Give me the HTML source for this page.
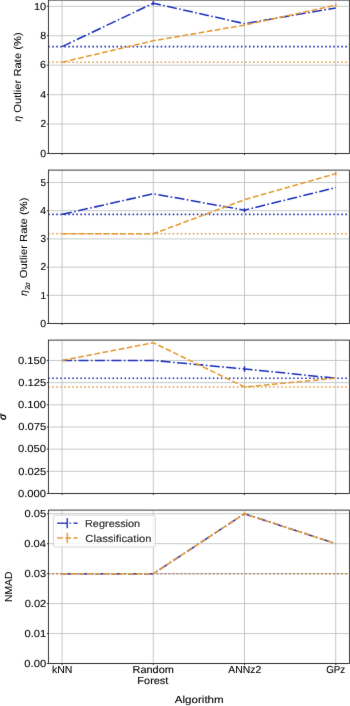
<!DOCTYPE html>
<html><head><meta charset="utf-8"><style>
html,body{margin:0;padding:0;background:#fff;}
svg{display:block;will-change:transform;}
text{font-family:"Liberation Sans", sans-serif;fill:#000000;stroke:#000000;stroke-width:0.1px;text-rendering:geometricPrecision;}
.rot text{stroke-width:0.05px;}
</style></head><body>
<svg width="350" height="706" viewBox="0 0 350 706">
<defs><filter id="bl" filterUnits="userSpaceOnUse" x="0" y="0" width="350" height="706"><feConvolveMatrix order="3" kernelMatrix="0.01 0.04 0.01 0.04 0.8 0.04 0.01 0.04 0.01" edgeMode="none" preserveAlpha="false"/></filter></defs>
<rect width="350" height="706" fill="#fff"/>
<g filter="url(#bl)">
<clipPath id="c0"><rect x="48.4" y="0.1" width="301.0" height="153.4"/></clipPath>
<path d="M62.08 0.1V153.5M153.29 0.1V153.5M244.51 0.1V153.5M335.72 0.1V153.5M48.4 153.50H349.4M48.4 124.06H349.4M48.4 94.62H349.4M48.4 65.18H349.4M48.4 35.74H349.4M48.4 6.30H349.4" stroke="#b9c0be" stroke-width="0.85" fill="none"/>
<g clip-path="url(#c0)">
<path d="M48.4 46.63H349.4" stroke="#1b30bc" stroke-width="1.55" stroke-dasharray="1.53 2.485" stroke-dashoffset="0.17" fill="none"/>
<path d="M48.4 62.24H349.4" stroke="#e49a32" stroke-width="1.55" stroke-dasharray="1.53 2.485" stroke-dashoffset="0.17" fill="none"/>
<polyline points="62.08,46.63 153.29,3.21 244.51,23.67 335.72,7.92" stroke="#1b30bc" stroke-width="1.55" stroke-dasharray="9.94 2.48 1.55 2.48" fill="none"/>
<polyline points="62.08,62.24 153.29,40.74 244.51,25.14 335.72,5.27" stroke="#e49a32" stroke-width="1.55" stroke-dasharray="5.74 2.48" fill="none"/>
<path d="M153.29 1.21V5.21" stroke="#1b30bc" stroke-width="1.55" fill="none"/>
<path d="M335.72 3.77V6.77" stroke="#e49a32" stroke-width="1.55" fill="none"/>
</g>
<rect x="48.4" y="0.1" width="301.0" height="153.4" stroke="#1a1a1a" stroke-width="0.85" fill="none"/>
<path d="M46.9 153.50H48.4M46.9 124.06H48.4M46.9 94.62H48.4M46.9 65.18H48.4M46.9 35.74H48.4M46.9 6.30H48.4M62.08 153.5V155.0M153.29 153.5V155.0M244.51 153.5V155.0M335.72 153.5V155.0" stroke="#1a1a1a" stroke-width="0.85" fill="none"/>
<text x="40.25" y="156.80" font-size="10.20" textLength="5.86" lengthAdjust="spacingAndGlyphs">0</text>
<text x="40.56" y="127.36" font-size="10.20" textLength="5.65" lengthAdjust="spacingAndGlyphs">2</text>
<text x="40.15" y="97.92" font-size="10.20" textLength="5.86" lengthAdjust="spacingAndGlyphs">4</text>
<text x="40.11" y="68.48" font-size="10.20" textLength="6.07" lengthAdjust="spacingAndGlyphs">6</text>
<text x="40.24" y="39.04" font-size="10.20" textLength="5.93" lengthAdjust="spacingAndGlyphs">8</text>
<text x="33.90" y="9.60" font-size="10.20" textLength="12.23" lengthAdjust="spacingAndGlyphs">10</text>
<clipPath id="c1"><rect x="48.4" y="170.1" width="301.0" height="153.4"/></clipPath>
<path d="M62.08 170.1V323.5M153.29 170.1V323.5M244.51 170.1V323.5M335.72 170.1V323.5M48.4 323.50H349.4M48.4 295.30H349.4M48.4 267.10H349.4M48.4 238.90H349.4M48.4 210.70H349.4M48.4 182.50H349.4" stroke="#b9c0be" stroke-width="0.85" fill="none"/>
<g clip-path="url(#c1)">
<path d="M48.4 214.37H349.4" stroke="#1b30bc" stroke-width="1.55" stroke-dasharray="1.53 2.485" stroke-dashoffset="0.17" fill="none"/>
<path d="M48.4 233.82H349.4" stroke="#e49a32" stroke-width="1.55" stroke-dasharray="1.53 2.485" stroke-dashoffset="0.17" fill="none"/>
<polyline points="62.08,214.37 153.29,193.78 244.51,210.14 335.72,187.58" stroke="#1b30bc" stroke-width="1.55" stroke-dasharray="9.94 2.48 1.55 2.48" fill="none"/>
<polyline points="62.08,233.82 153.29,233.82 244.51,199.70 335.72,173.76" stroke="#e49a32" stroke-width="1.55" stroke-dasharray="5.74 2.48" fill="none"/>
<path d="M244.51 208.14V212.14" stroke="#1b30bc" stroke-width="1.55" fill="none"/>
<path d="M335.72 172.06V175.46" stroke="#e49a32" stroke-width="1.55" fill="none"/>
</g>
<rect x="48.4" y="170.1" width="301.0" height="153.4" stroke="#1a1a1a" stroke-width="0.85" fill="none"/>
<path d="M46.9 323.50H48.4M46.9 295.30H48.4M46.9 267.10H48.4M46.9 238.90H48.4M46.9 210.70H48.4M46.9 182.50H48.4M62.08 323.5V325.0M153.29 323.5V325.0M244.51 323.5V325.0M335.72 323.5V325.0" stroke="#1a1a1a" stroke-width="0.85" fill="none"/>
<text x="40.25" y="326.80" font-size="10.20" textLength="5.86" lengthAdjust="spacingAndGlyphs">0</text>
<text x="40.59" y="298.60" font-size="10.20" textLength="5.60" lengthAdjust="spacingAndGlyphs">1</text>
<text x="40.56" y="270.40" font-size="10.20" textLength="5.65" lengthAdjust="spacingAndGlyphs">2</text>
<text x="40.51" y="242.20" font-size="10.20" textLength="5.63" lengthAdjust="spacingAndGlyphs">3</text>
<text x="40.15" y="214.00" font-size="10.20" textLength="5.86" lengthAdjust="spacingAndGlyphs">4</text>
<text x="40.58" y="185.80" font-size="10.20" textLength="5.53" lengthAdjust="spacingAndGlyphs">5</text>
<clipPath id="c2"><rect x="48.4" y="340.1" width="301.0" height="153.39999999999998"/></clipPath>
<path d="M62.08 340.1V493.5M153.29 340.1V493.5M244.51 340.1V493.5M335.72 340.1V493.5M48.4 493.50H349.4M48.4 471.32H349.4M48.4 449.15H349.4M48.4 426.98H349.4M48.4 404.80H349.4M48.4 382.62H349.4M48.4 360.45H349.4" stroke="#b9c0be" stroke-width="0.85" fill="none"/>
<g clip-path="url(#c2)">
<path d="M48.4 378.19H349.4" stroke="#1b30bc" stroke-width="1.55" stroke-dasharray="1.53 2.485" stroke-dashoffset="0.17" fill="none"/>
<path d="M48.4 387.06H349.4" stroke="#e49a32" stroke-width="1.55" stroke-dasharray="1.53 2.485" stroke-dashoffset="0.17" fill="none"/>
<polyline points="62.08,360.45 153.29,360.45 244.51,368.97 335.72,378.19" stroke="#1b30bc" stroke-width="1.55" stroke-dasharray="9.94 2.48 1.55 2.48" fill="none"/>
<polyline points="62.08,360.45 153.29,342.71 244.51,387.06 335.72,378.19" stroke="#e49a32" stroke-width="1.55" stroke-dasharray="5.74 2.48" fill="none"/>
<path d="M244.51 366.17V371.77" stroke="#1b30bc" stroke-width="1.55" fill="none"/>
</g>
<rect x="48.4" y="340.1" width="301.0" height="153.39999999999998" stroke="#1a1a1a" stroke-width="0.85" fill="none"/>
<path d="M46.9 493.50H48.4M46.9 471.32H48.4M46.9 449.15H48.4M46.9 426.98H48.4M46.9 404.80H48.4M46.9 382.62H48.4M46.9 360.45H48.4M62.08 493.5V495.0M153.29 493.5V495.0M244.51 493.5V495.0M335.72 493.5V495.0" stroke="#1a1a1a" stroke-width="0.85" fill="none"/>
<text x="17.96" y="496.80" font-size="10.20" textLength="28.18" lengthAdjust="spacingAndGlyphs">0.000</text>
<text x="18.17" y="474.62" font-size="10.20" textLength="28.00" lengthAdjust="spacingAndGlyphs">0.025</text>
<text x="17.96" y="452.45" font-size="10.20" textLength="28.18" lengthAdjust="spacingAndGlyphs">0.050</text>
<text x="18.17" y="430.28" font-size="10.20" textLength="28.00" lengthAdjust="spacingAndGlyphs">0.075</text>
<text x="17.96" y="408.10" font-size="10.20" textLength="28.18" lengthAdjust="spacingAndGlyphs">0.100</text>
<text x="18.17" y="385.93" font-size="10.20" textLength="28.00" lengthAdjust="spacingAndGlyphs">0.125</text>
<text x="17.96" y="363.75" font-size="10.20" textLength="28.18" lengthAdjust="spacingAndGlyphs">0.150</text>
<clipPath id="c3"><rect x="48.4" y="510.1" width="301.0" height="153.39999999999998"/></clipPath>
<path d="M62.08 510.1V663.5M153.29 510.1V663.5M244.51 510.1V663.5M335.72 510.1V663.5M48.4 663.50H349.4M48.4 633.55H349.4M48.4 603.60H349.4M48.4 573.65H349.4M48.4 543.70H349.4M48.4 513.75H349.4" stroke="#b9c0be" stroke-width="0.85" fill="none"/>
<g clip-path="url(#c3)">
<path d="M48.4 573.65H349.4" stroke="#1b30bc" stroke-width="1.1" stroke-dasharray="1.53 2.485" stroke-dashoffset="0.17" fill="none"/>
<path d="M48.4 573.65H349.4" stroke="#e49a32" stroke-width="1.55" stroke-dasharray="1.53 2.485" stroke-dashoffset="0.17" fill="none"/>
<polyline points="62.08,573.65 153.29,573.65 244.51,513.75 335.72,543.70" stroke="#1b30bc" stroke-width="1.55" stroke-dasharray="9.94 2.48 1.55 2.48" fill="none"/>
<polyline points="62.08,573.65 153.29,573.65 244.51,513.75 335.72,543.70" stroke="#e49a32" stroke-width="1.55" stroke-dasharray="5.74 2.48" fill="none"/>
<path d="M244.51 512.15V515.35" stroke="#e49a32" stroke-width="1.55" fill="none"/>
</g>
<rect x="48.4" y="510.1" width="301.0" height="153.39999999999998" stroke="#1a1a1a" stroke-width="0.85" fill="none"/>
<path d="M46.9 663.50H48.4M46.9 633.55H48.4M46.9 603.60H48.4M46.9 573.65H48.4M46.9 543.70H48.4M46.9 513.75H48.4M62.08 663.5V665.0M153.29 663.5V665.0M244.51 663.5V665.0M335.72 663.5V665.0" stroke="#1a1a1a" stroke-width="0.85" fill="none"/>
<text x="24.32" y="666.80" font-size="10.20" textLength="21.82" lengthAdjust="spacingAndGlyphs">0.00</text>
<text x="24.58" y="636.85" font-size="10.20" textLength="21.66" lengthAdjust="spacingAndGlyphs">0.01</text>
<text x="24.66" y="606.90" font-size="10.20" textLength="21.60" lengthAdjust="spacingAndGlyphs">0.02</text>
<text x="24.46" y="576.95" font-size="10.20" textLength="21.73" lengthAdjust="spacingAndGlyphs">0.03</text>
<text x="24.22" y="547.00" font-size="10.20" textLength="21.81" lengthAdjust="spacingAndGlyphs">0.04</text>
<text x="24.53" y="517.05" font-size="10.20" textLength="21.63" lengthAdjust="spacingAndGlyphs">0.05</text>
<text x="51.94" y="673.10" font-size="10.20" textLength="20.43" lengthAdjust="spacingAndGlyphs">kNN</text>
<text x="132.50" y="673.10" font-size="10.20" textLength="41.41" lengthAdjust="spacingAndGlyphs">Random</text>
<text x="137.37" y="683.80" font-size="10.20" textLength="31.02" lengthAdjust="spacingAndGlyphs">Forest</text>
<text x="228.32" y="673.10" font-size="10.20" textLength="32.88" lengthAdjust="spacingAndGlyphs">ANNz2</text>
<text x="326.21" y="673.10" font-size="10.20" textLength="19.02" lengthAdjust="spacingAndGlyphs">GPz</text>
<text x="174.85" y="703.40" font-size="10.20" textLength="48.83" lengthAdjust="spacingAndGlyphs">Algorithm</text>
<g transform="translate(21.00,122.10) rotate(-90)" class="rot"><text x="0.39" y="0.00" font-size="10.20" textLength="5.96" lengthAdjust="spacingAndGlyphs" font-style="italic">η</text><text x="9.33" y="0.00" font-size="10.20" textLength="80.57" lengthAdjust="spacingAndGlyphs">Outlier Rate (%)</text></g>
<g transform="translate(27.40,296.30) rotate(-90)" class="rot"><text x="0.39" y="0.00" font-size="10.20" textLength="5.96" lengthAdjust="spacingAndGlyphs" font-style="italic">η</text><text x="6.54" y="2.50" font-size="7.14" textLength="3.96" lengthAdjust="spacingAndGlyphs">2</text><text x="9.84" y="2.50" font-size="7.14" textLength="4.29" lengthAdjust="spacingAndGlyphs" font-style="italic">σ</text><text x="18.13" y="0.00" font-size="10.20" textLength="80.57" lengthAdjust="spacingAndGlyphs">Outlier Rate (%)</text></g>
<g transform="translate(6.00,416.60) rotate(-90)" class="rot"><text x="-3.39" y="0.00" font-size="10.20" textLength="6.13" lengthAdjust="spacingAndGlyphs" font-style="italic" style="stroke-width:0.35px">σ</text></g>
<g transform="translate(11.80,586.60) rotate(-90)" class="rot"><text x="-15.39" y="0.00" font-size="10.20" textLength="30.42" lengthAdjust="spacingAndGlyphs">NMAD</text></g>
<rect x="53.4" y="515.2" width="101.9" height="31.8" rx="2" ry="2" fill="#ffffff" fill-opacity="0.8" stroke="#d4d4d4" stroke-width="0.9"/>
<path d="M57.1 523.2H77.6" stroke="#1b30bc" stroke-width="1.55" stroke-dasharray="9.94 2.48 1.55 2.48" fill="none"/>
<path d="M67.3 518.2V528.2" stroke="#1b30bc" stroke-width="1.55" fill="none"/>
<text x="85.01" y="526.50" font-size="10.20" textLength="55.14" lengthAdjust="spacingAndGlyphs">Regression</text>
<path d="M57.1 537.9H77.6" stroke="#e49a32" stroke-width="1.55" stroke-dasharray="5.74 2.48" fill="none"/>
<path d="M67.3 532.9V542.9" stroke="#e49a32" stroke-width="1.55" fill="none"/>
<text x="85.33" y="541.70" font-size="10.20" textLength="66.05" lengthAdjust="spacingAndGlyphs">Classification</text>
</g>
</svg>
</body></html>
